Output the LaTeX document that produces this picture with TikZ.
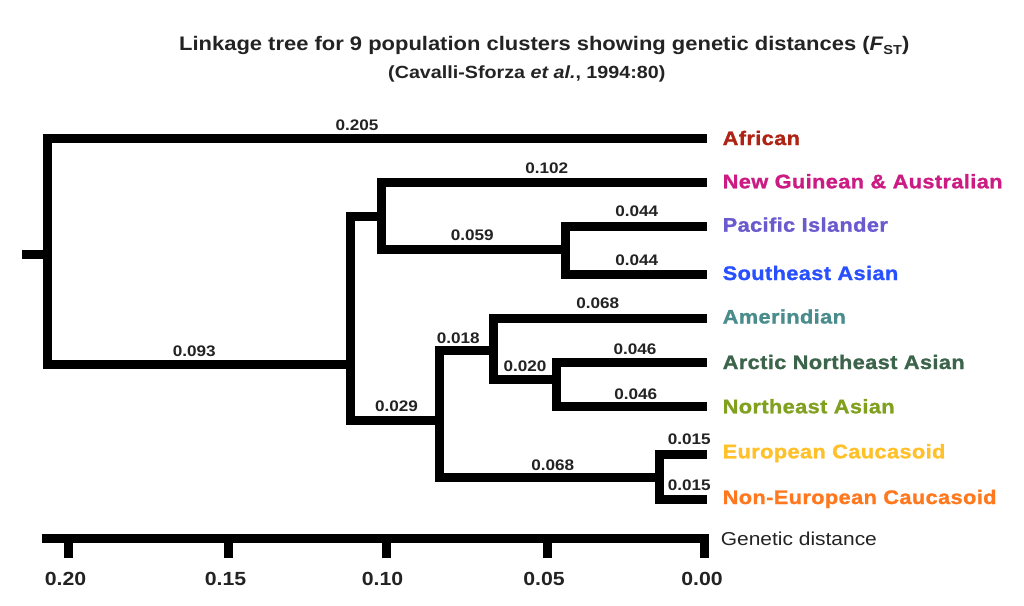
\documentclass[tikz,border=0pt]{standalone}
\usepackage{fontspec}
\newfontfamily\af[FakeStretch=1.12]{Liberation Sans}
\newfontfamily\afh[FakeStretch=1.11,FakeBold=1.2,LetterSpace=2]{Liberation Sans Bold}
\definecolor{darktxt}{RGB}{35,35,35}
\definecolor{cafr}{RGB}{175,35,20}
\definecolor{cng}{RGB}{204,28,132}
\definecolor{cpi}{RGB}{106,90,205}
\definecolor{csea}{RGB}{40,80,255}
\definecolor{camer}{RGB}{74,140,140}
\definecolor{cane}{RGB}{60,100,75}
\definecolor{cnea}{RGB}{128,160,30}
\definecolor{ceur}{RGB}{255,192,40}
\definecolor{cneur}{RGB}{255,120,30}
\tikzset{
  branch/.style={line width=9pt, line join=miter, line cap=butt, black},
  brlbl/.style={anchor=base, inner sep=0pt, text=darktxt, font=\af\bfseries\fontsize{15.3}{16}\selectfont},
  leaflbl/.style={anchor=base west, inner sep=0pt, font=\afh\fontsize{19.6}{20}\selectfont},
  axlbl/.style={anchor=base, inner sep=0pt, text=darktxt, font=\af\bfseries\fontsize{19}{20}\selectfont},
}
\begin{document}
\begin{tikzpicture}[x=1pt,y=-1pt]
\useasboundingbox[fill=white] (0,0) rectangle (1024,605);
% title
\node[anchor=base west, inner sep=0pt, text=darktxt, font=\af\bfseries\fontsize{19.6}{20}\selectfont] (title) at (179,50)
  {Linkage tree for 9 population clusters showing genetic distances (\textit{F}\raisebox{-0.25em}{\fontsize{13}{13}\selectfont ST})};
\node[anchor=base west, inner sep=0pt, text=darktxt, font=\af\bfseries\fontsize{17.6}{18}\selectfont] (subtitle) at (388,78.3)
  {(Cavalli-Sforza \textit{et al.}, 1994:80)};
% tree nodes
\coordinate (stub) at (22,254);
\coordinate (root) at (47,254);
\coordinate (A) at (350.5,364.7);
\coordinate (B) at (381,216);
\coordinate (C) at (565.3,249);
\coordinate (D) at (439,420.5);
\coordinate (E) at (493,350.5);
\coordinate (F) at (556,379);
\coordinate (G) at (659.5,477);
\coordinate (afr) at (707,138.7);
\coordinate (ng) at (707,182.5);
\coordinate (pi) at (707,226.7);
\coordinate (sea) at (707,274);
\coordinate (amer) at (707,318);
\coordinate (ane) at (707,362);
\coordinate (nea) at (707,406.5);
\coordinate (eur) at (707,454);
\coordinate (neur) at (707,499);
\draw[branch] (stub) -- (root);
\draw[branch] (afr) -| (root) |- (A);
\draw[branch] (B) -| (A) |- (D);
\draw[branch] (ng) -| (B) |- (C);
\draw[branch] (pi) -| (C) |- (sea);
\draw[branch] (E) -| (D) |- (G);
\draw[branch] (amer) -| (E) |- (F);
\draw[branch] (ane) -| (F) |- (nea);
\draw[branch] (eur) -| (G) |- (neur);
% branch labels
\node[brlbl] (l205) at (357,130.7) {0.205};
\node[brlbl] (l093) at (194.3,356.7) {0.093};
\node[brlbl] (l102) at (546.7,173.3) {0.102};
\node[brlbl] (l059) at (472.3,240.7) {0.059};
\node[brlbl] (l044a) at (636.7,216.7) {0.044};
\node[brlbl] (l044b) at (636.7,265) {0.044};
\node[brlbl] (l068a) at (597.7,308.3) {0.068};
\node[brlbl] (l018) at (458.3,343.3) {0.018};
\node[brlbl] (l020) at (525,371.7) {0.020};
\node[brlbl] (l046a) at (635,354) {0.046};
\node[brlbl] (l046b) at (635.7,399) {0.046};
\node[brlbl] (l029) at (396.5,411.7) {0.029};
\node[brlbl] (l068b) at (552.7,470) {0.068};
\node[brlbl] (l015a) at (689.3,444) {0.015};
\node[brlbl] (l015b) at (689.3,490) {0.015};
% leaf labels
\node[leaflbl, text=cafr] (tafr) at (722.5,145) {African};
\node[leaflbl, text=cng] (tng) at (722.5,188.3) {New Guinean \& Australian};
\node[leaflbl, text=cpi] (tpi) at (722.5,231.7) {Pacific Islander};
\node[leaflbl, text=csea] (tsea) at (722.5,280) {Southeast Asian};
\node[leaflbl, text=camer] (tamer) at (722.5,323.5) {Amerindian};
\node[leaflbl, text=cane] (tane) at (722.5,369) {Arctic Northeast Asian};
\node[leaflbl, text=cnea] (tnea) at (722.5,413.3) {Northeast Asian};
\node[leaflbl, text=ceur] (teur) at (722.5,458.3) {European Caucasoid};
\node[leaflbl, text=cneur] (tneur) at (722.5,504) {Non-European Caucasoid};
% axis
\coordinate (ax0) at (42,538);
\coordinate (t20) at (68.7,538);
\coordinate (t15) at (228.7,538);
\coordinate (t10) at (386.3,538);
\coordinate (t05) at (547,538);
\coordinate (t00) at (704.7,538);
\draw[branch] (ax0) -- (t00) -- ++(0,20);
\foreach \t in {t20,t15,t10,t05} \draw[branch] (\t) -- ++(0,20);
\node[axlbl] (a20) at (65.5,585) {0.20};
\node[axlbl] (a15) at (225.5,585) {0.15};
\node[axlbl] (a10) at (382.5,585) {0.10};
\node[axlbl] (a05) at (544,585) {0.05};
\node[axlbl] (a00) at (702,585) {0.00};
\node[anchor=base west, inner sep=0pt, text=darktxt, font=\af\fontsize{18.7}{19}\selectfont] (gd) at (720.7,545) {Genetic distance};
\end{tikzpicture}
\end{document}
